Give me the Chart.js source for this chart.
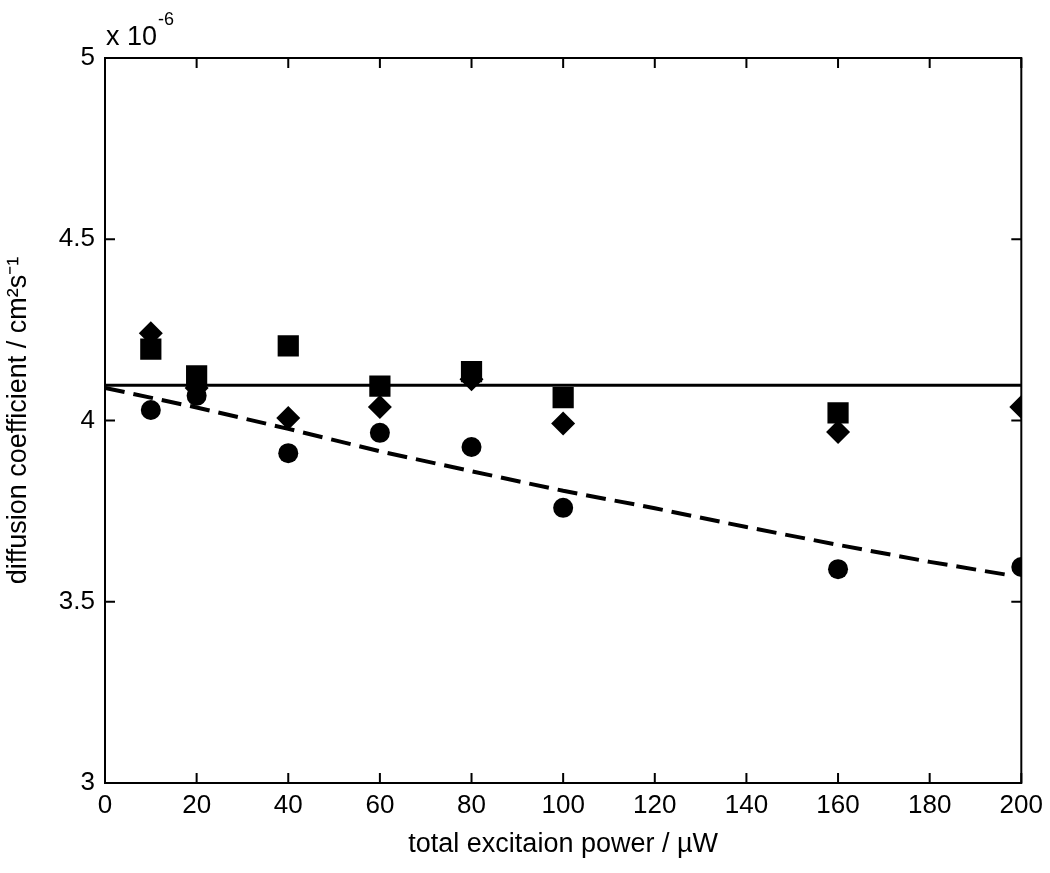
<!DOCTYPE html>
<html>
<head>
<meta charset="utf-8">
<script src="https://cdn.jsdelivr.net/npm/chart.js@4"></script>
<style>
  html, body { margin: 0; padding: 0; background: #fff; }
  #wrap { width: 1050px; height: 873px; }
</style>
</head>
<body>
<div id="wrap"><canvas id="grafico"></canvas></div>
<script>
// excitation power (µW) at which each sample was measured
const potencias = [10, 20, 40, 60, 80, 100, 160, 200];
// diffusion coefficients (x 10^-6 cm^2 s^-1)
const cuadrados = [4.197, 4.123, 4.206, 4.095, 4.135, 4.063, 4.021, null];
const rombos = [4.241, 4.09, 4.007, 4.037, 4.114, 3.992, 3.968, 4.037];
const circulos = [4.029, 4.068, 3.910, 3.966, 3.927, 3.759, 3.590, 3.596];

// mean value (solid line)
const mediaX = [0, 200];
const mediaY = [4.097, 4.097];

// trend of the circles (dashed line)
const tendenciaX = [0, 20, 40, 60, 80, 100, 120, 140, 160, 180, 198];
const tendenciaY = [4.09, 4.036, 3.977, 3.915, 3.86, 3.806, 3.758, 3.706, 3.657, 3.61, 3.572];

const ticksX = [0, 20, 40, 60, 80, 100, 120, 140, 160, 180, 200];
const ticksY = [3, 3.5, 4, 4.5, 5];

const puntos = (xs, ys) => xs.map((x, i) => ({ x: x, y: ys[i] }));

const fuente = "'Liberation Sans', Arial, sans-serif";

// box round the plot area and inward ticks on all four sides
const marco = {
  id: "marco",
  afterDatasetsDraw(chart) {
    const { ctx, chartArea: a, scales: { x, y } } = chart;
    const largo = 10;
    ctx.save();
    ctx.strokeStyle = "#000";
    ctx.lineWidth = 2;
    ctx.strokeRect(a.left, a.top, a.right - a.left, a.bottom - a.top);
    ctx.beginPath();
    x.ticks.forEach(t => {
      const px = x.getPixelForValue(t.value);
      ctx.moveTo(px, a.bottom); ctx.lineTo(px, a.bottom - largo);
      ctx.moveTo(px, a.top); ctx.lineTo(px, a.top + largo);
    });
    y.ticks.forEach(t => {
      const py = y.getPixelForValue(t.value);
      ctx.moveTo(a.left, py); ctx.lineTo(a.left + largo, py);
      ctx.moveTo(a.right, py); ctx.lineTo(a.right - largo, py);
    });
    ctx.stroke();
    // exponent label above the y axis
    ctx.fillStyle = "#000";
    ctx.textBaseline = "alphabetic";
    ctx.textAlign = "left";
    ctx.font = "27px " + fuente;
    ctx.fillText("x 10", a.left + 1, a.top - 13);
    const w = ctx.measureText("x 10").width;
    ctx.font = "18px " + fuente;
    ctx.fillText("-6", a.left + 2 + w, a.top - 33);
    ctx.restore();
  }
};

const ctx = document.getElementById("grafico").getContext("2d");

const miGrafico = new Chart(ctx, {
  type: "scatter",
  data: {
    datasets: [
      {
        data: puntos(potencias, cuadrados),
        pointStyle: "rect",
        pointRadius: 15,
        backgroundColor: "#000",
        borderColor: "#000",
        borderWidth: 0,
        order: 1,
      },
      {
        data: puntos(potencias, rombos),
        pointStyle: "rectRot",
        pointRadius: 12,
        backgroundColor: "#000",
        borderColor: "#000",
        borderWidth: 0,
        order: 2,
      },
      {
        data: puntos(potencias, circulos),
        pointStyle: "circle",
        pointRadius: 10,
        backgroundColor: "#000",
        borderColor: "#000",
        borderWidth: 0,
        order: 3,
      },
      {
        data: puntos(mediaX, mediaY),
        showLine: true,
        pointRadius: 0,
        borderColor: "#000",
        borderWidth: 3,
        order: 4,
      },
      {
        data: puntos(tendenciaX, tendenciaY),
        showLine: true,
        pointRadius: 0,
        borderColor: "#000",
        borderWidth: 4,
        borderDash: [20, 9],
        order: 5,
      },
    ],
  },
  options: {
    responsive: true,
    maintainAspectRatio: false,
    animation: false,
    layout: { padding: { top: 58, right: 27, left: 0, bottom: 0 } },
    plugins: {
      legend: { display: false },
      tooltip: { enabled: false },
    },
    scales: {
      x: {
        type: "linear",
        min: 0,
        max: 200,
        afterFit: s => { s.height = 90; },
        afterBuildTicks: s => { s.ticks = ticksX.map(v => ({ value: v })); },
        grid: { display: false, drawTicks: false },
        border: { display: false },
        ticks: {
          padding: 7,
          color: "#000",
          font: { family: fuente, size: 26 },
          maxRotation: 0,
        },
        title: {
          display: true,
          text: "total excitaion power / µW",
          color: "#000",
          font: { family: fuente, size: 27 },
          padding: { top: 0, bottom: 12 },
        },
      },
      y: {
        type: "linear",
        min: 3,
        max: 5,
        afterFit: s => { s.width = 105; },
        afterBuildTicks: s => { s.ticks = ticksY.map(v => ({ value: v })); },
        grid: { display: false, drawTicks: false },
        border: { display: false },
        ticks: {
          padding: 10,
          color: "#000",
          font: { family: fuente, size: 26 },
          callback: v => String(v),
        },
        title: {
          display: true,
          text: "diffusion coefficient / cm²s⁻¹",
          color: "#000",
          font: { family: fuente, size: 27 },
          padding: { top: 2, bottom: 0 },
        },
      },
    },
  },
  plugins: [marco],
});
</script>
</body>
</html>
